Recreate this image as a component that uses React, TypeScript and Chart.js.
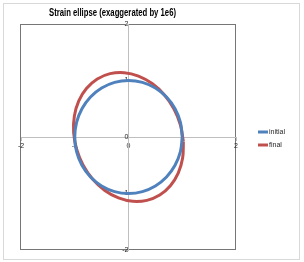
import React, { useEffect, useRef } from "react";
import { Chart, registerables } from "chart.js";

Chart.register(...registerables);

const TITLE = "Strain ellipse (exaggerated by 1e6)";
const SERIES_NAMES = ["initial", "final"];
const SERIES_COLORS = ["#4f81bd", "#c0504d"];
const AXIS_MIN = -2;
const AXIS_MAX = 2;
const AXIS_STEP = 1;

const initialX = [1, 0.966, 0.866, 0.707, 0.5, 0.259, 0, -0.259, -0.5, -0.707, -0.866, -0.966, -1, -0.966, -0.866, -0.707, -0.5, -0.259, 0, 0.259, 0.5, 0.707, 0.866, 0.966, 1];
const initialY = [0, 0.259, 0.5, 0.707, 0.866, 0.966, 1, 0.966, 0.866, 0.707, 0.5, 0.259, 0, -0.259, -0.5, -0.707, -0.866, -0.966, -1, -0.966, -0.866, -0.707, -0.5, -0.259, 0];

const finalX = [1.021, 0.965, 0.844, 0.665, 0.44, 0.186, -0.081, -0.342, -0.581, -0.779, -0.925, -1.007, -1.021, -0.965, -0.844, -0.665, -0.44, -0.186, 0.081, 0.342, 0.581, 0.779, 0.925, 1.007, 1.021];
const finalY = [-0.081, 0.217, 0.5, 0.748, 0.946, 1.079, 1.139, 1.121, 1.027, 0.862, 0.64, 0.373, 0.081, -0.217, -0.5, -0.748, -0.946, -1.079, -1.139, -1.121, -1.027, -0.862, -0.64, -0.373, -0.081];

const FONT = "'Liberation Sans', Arial, sans-serif";

const decorPlugin = {
  id: "decor",
  beforeDraw(chart: any) {
    const { ctx, chartArea } = chart;
    ctx.save();
    ctx.fillStyle = "#ffffff";
    ctx.fillRect(0, 0, chart.width, chart.height);
    // outer chart border
    ctx.strokeStyle = "#d9d9d9";
    ctx.lineWidth = 1;
    ctx.strokeRect(3.5, 3.5, 296, 256);
    // plot area frame
    ctx.strokeStyle = "#767676";
    const l = Math.round(chartArea.left) - 0.5;
    const r = Math.round(chartArea.right) - 0.5;
    const t = Math.round(chartArea.top) + 0.5;
    const b = Math.round(chartArea.bottom) - 0.5;
    ctx.strokeRect(l, t, r - l, b - t);
    // title
    ctx.fillStyle = "#000000";
    ctx.font = "bold 10px " + FONT;
    ctx.textAlign = "center";
    ctx.textBaseline = "middle";
    ctx.fillText(TITLE, 112.5, 13, 127);
    ctx.restore();
  },
  afterDraw(chart: any) {
    const { ctx } = chart;
    ctx.save();
    const ys = [132, 145];
    chart.data.datasets.forEach((ds: any, i: number) => {
      ctx.strokeStyle = ds.borderColor;
      ctx.lineWidth = 3;
      ctx.beginPath();
      ctx.moveTo(258, ys[i]);
      ctx.lineTo(268, ys[i]);
      ctx.stroke();
      ctx.fillStyle = "#262626";
      ctx.font = "7px " + FONT;
      ctx.textAlign = "left";
      ctx.textBaseline = "middle";
      ctx.fillText(ds.label, 269, ys[i]);
    });
    ctx.restore();
  },
};

export default function App() {
  const ref = useRef<HTMLCanvasElement>(null);
  useEffect(() => {
    const canvas = ref.current!;
    const toPts = (xs: number[], ys: number[]) => xs.map((x, i) => ({ x, y: ys[i] }));
    const chart = new Chart(canvas, {
      type: "scatter",
      data: {
        datasets: [
          {
            label: SERIES_NAMES[0],
            data: toPts(initialX, initialY),
            borderColor: SERIES_COLORS[0],
            backgroundColor: SERIES_COLORS[0],
            showLine: true,
            borderWidth: 3,
            pointRadius: 0,
            tension: 0.4,
          },
          {
            label: SERIES_NAMES[1],
            data: toPts(finalX, finalY),
            borderColor: SERIES_COLORS[1],
            backgroundColor: SERIES_COLORS[1],
            showLine: true,
            borderWidth: 3,
            pointRadius: 0,
            tension: 0.4,
          },
        ],
      },
      options: {
        responsive: false,
        animation: false,
        devicePixelRatio: 1,
        layout: { padding: { left: 21, top: 24, right: 68, bottom: 12 } },
        plugins: {
          legend: { display: false },
          tooltip: { enabled: false },
          title: { display: false },
        },
        scales: {
          x: {
            type: "linear",
            min: AXIS_MIN,
            max: AXIS_MAX,
            position: { y: 0 } as any,
            ticks: { stepSize: AXIS_STEP, font: { size: 7, family: FONT }, color: "#262626", padding: 2, maxRotation: 0 },
            grid: { display: true, drawOnChartArea: false, drawTicks: true, tickLength: 3, color: "#bfbfbf" },
            border: { display: true, color: "#bfbfbf", width: 1 },
          },
          y: {
            type: "linear",
            min: AXIS_MIN,
            max: AXIS_MAX,
            position: { x: 0 } as any,
            ticks: { stepSize: AXIS_STEP, font: { size: 7, family: FONT }, color: "#262626", padding: 3 },
            grid: { display: true, drawOnChartArea: false, drawTicks: true, tickLength: 3, color: "#bfbfbf" },
            border: { display: true, color: "#bfbfbf", width: 1 },
          },
        },
      },
      plugins: [decorPlugin],
    });
    return () => chart.destroy();
  }, []);
  return (
    <div style={{ position: "absolute", left: 0, top: 0, width: 304, height: 262, background: "#fff" }}>
      <canvas ref={ref} width={304} height={262} style={{ display: "block" }} />
    </div>
  );
}
